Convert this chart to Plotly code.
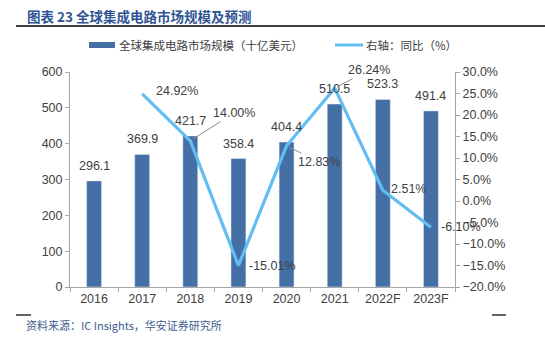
import plotly.graph_objects as go

categories = ["2016", "2017", "2018", "2019", "2020", "2021", "2022F", "2023F"]
market_size = [296.1, 369.9, 421.7, 358.4, 404.4, 510.5, 523.3, 491.4]
yoy_pct = [None, 24.92, 14.00, -15.01, 12.83, 26.24, 2.51, -6.10]

title_text = "图表 23 全球集成电路市场规模及预测"
bar_name = "全球集成电路市场规模（十亿美元）"
line_name = "右轴：同比（%）"
source_text = "资料来源：IC Insights，华安证券研究所"

W, H = 545, 340
ML, MR, MT, MB = 70, 90, 72, 53
PW, PH = W - ML - MR, H - MT - MB

def px(x):
    return (x - ML) / PW

def py(y):
    return (H - MB - y) / PH

BAR_COLOR = "#4470A6"
LINE_COLOR = "#62BDF3"
TXT = "#404040"
FONT = "Arial, Liberation Sans, Noto Sans CJK SC, sans-serif"
CJK = "Noto Sans CJK SC, sans-serif"

fig = go.Figure()
fig.add_trace(go.Bar(x=categories, y=market_size, marker_color=BAR_COLOR,
                     width=0.31, name=bar_name, showlegend=False,
                     hoverinfo="skip"))
fig.add_trace(go.Scatter(x=categories, y=yoy_pct, yaxis="y2", mode="lines",
                         line=dict(color=LINE_COLOR, width=3.2),
                         name=line_name, showlegend=False, connectgaps=False,
                         hoverinfo="skip"))

annotations = []
# bar value labels
for i, v in enumerate(market_size):
    annotations.append(dict(x=i, y=v, xref="x", yref="y", text=f"{v:.1f}",
                            showarrow=False, yshift=15,
                            font=dict(family=FONT, size=12.5, color=TXT)))

# line labels: (dx, dy up-positive, arrow)
label_style = [None, (35, 3, False), (44, 28, True), (34, 0, False),
               (32, -16, True), (34, 18, True), (26, 1, False), (30, 0, False)]
for i, (v, st) in enumerate(zip(yoy_pct, label_style)):
    if v is None:
        continue
    dx, dy, arrow = st
    if arrow:
        annotations.append(dict(x=i, y=v, xref="x", yref="y2", text=f"{v:.2f}%",
                                showarrow=True, ax=dx, ay=-dy, arrowhead=0,
                                arrowwidth=1, arrowcolor="#8C8C8C", standoff=3,
                                font=dict(family=FONT, size=12.5, color=TXT)))
    else:
        annotations.append(dict(x=i, y=v, xref="x", yref="y2", text=f"{v:.2f}%",
                                showarrow=False, xshift=dx, yshift=dy,
                                font=dict(family=FONT, size=12.5, color=TXT)))

# title
annotations.append(dict(x=px(25), y=py(16), xref="paper", yref="paper",
                        text=f"<b>{title_text}</b>", showarrow=False,
                        xanchor="left", yanchor="middle",
                        font=dict(family=CJK, size=13.5, color="#2F5496")))
# legend texts
annotations.append(dict(x=px(117), y=py(45), xref="paper", yref="paper",
                        text=bar_name, showarrow=False, xanchor="left",
                        yanchor="middle",
                        font=dict(family=CJK, size=11.5, color=TXT)))
annotations.append(dict(x=px(364), y=py(45), xref="paper", yref="paper",
                        text=line_name, showarrow=False, xanchor="left",
                        yanchor="middle",
                        font=dict(family=CJK, size=11.5, color=TXT)))
# source
annotations.append(dict(x=px(24), y=py(325), xref="paper", yref="paper",
                        text=source_text, showarrow=False, xanchor="left",
                        yanchor="middle",
                        font=dict(family=CJK, size=11, color="#3E5C8E")))

shapes = [
    dict(type="line", xref="paper", yref="paper", x0=px(16), x1=px(545),
         y0=py(26), y1=py(26), line=dict(color="black", width=1.5)),
    dict(type="rect", xref="paper", yref="paper", x0=px(89), x1=px(115),
         y0=py(48), y1=py(42), fillcolor=BAR_COLOR, line=dict(width=0)),
    dict(type="line", xref="paper", yref="paper", x0=px(335), x1=px(363),
         y0=py(45), y1=py(45), line=dict(color=LINE_COLOR, width=3)),
    dict(type="line", xref="paper", yref="paper", x0=px(16), x1=px(31),
         y0=py(315), y1=py(315), line=dict(color="black", width=1.2)),
    dict(type="line", xref="paper", yref="paper", x0=px(492), x1=px(506),
         y0=py(315), y1=py(315), line=dict(color="black", width=1.2)),
]

fig.update_layout(
    width=W, height=H,
    margin=dict(l=ML, r=MR, t=MT, b=MB, pad=0),
    paper_bgcolor="white", plot_bgcolor="white",
    bargap=0.2,
    showlegend=False,
    font=dict(family=FONT, size=12, color=TXT),
    xaxis=dict(type="category", range=[-0.5, len(categories) - 0.5],
               autorange=False, showgrid=False, showline=True,
               linecolor="#A6A6A6", linewidth=1, ticks="outside",
               tickson="boundaries", ticklen=4, tickcolor="#A6A6A6",
               tickangle=0,
               tickfont=dict(family=FONT, size=12.5, color=TXT)),
    yaxis=dict(range=[0, 600], autorange=False, dtick=100, showgrid=False,
               zeroline=False, showline=True, linecolor="#A6A6A6",
               linewidth=1, ticks="outside", ticklen=4, tickcolor="#A6A6A6",
               tickfont=dict(family=FONT, size=12.5, color=TXT)),
    yaxis2=dict(range=[-20, 30], autorange=False, dtick=5, overlaying="y",
                side="right", showgrid=False, zeroline=False, showline=True,
                linecolor="#A6A6A6", linewidth=1, ticks="outside",
                ticklen=4, tickcolor="#A6A6A6", tickformat=".1f",
                ticksuffix="%",
                tickfont=dict(family=FONT, size=12.5, color=TXT)),
    annotations=annotations,
    shapes=shapes,
)

fig.write_html("out.html")
